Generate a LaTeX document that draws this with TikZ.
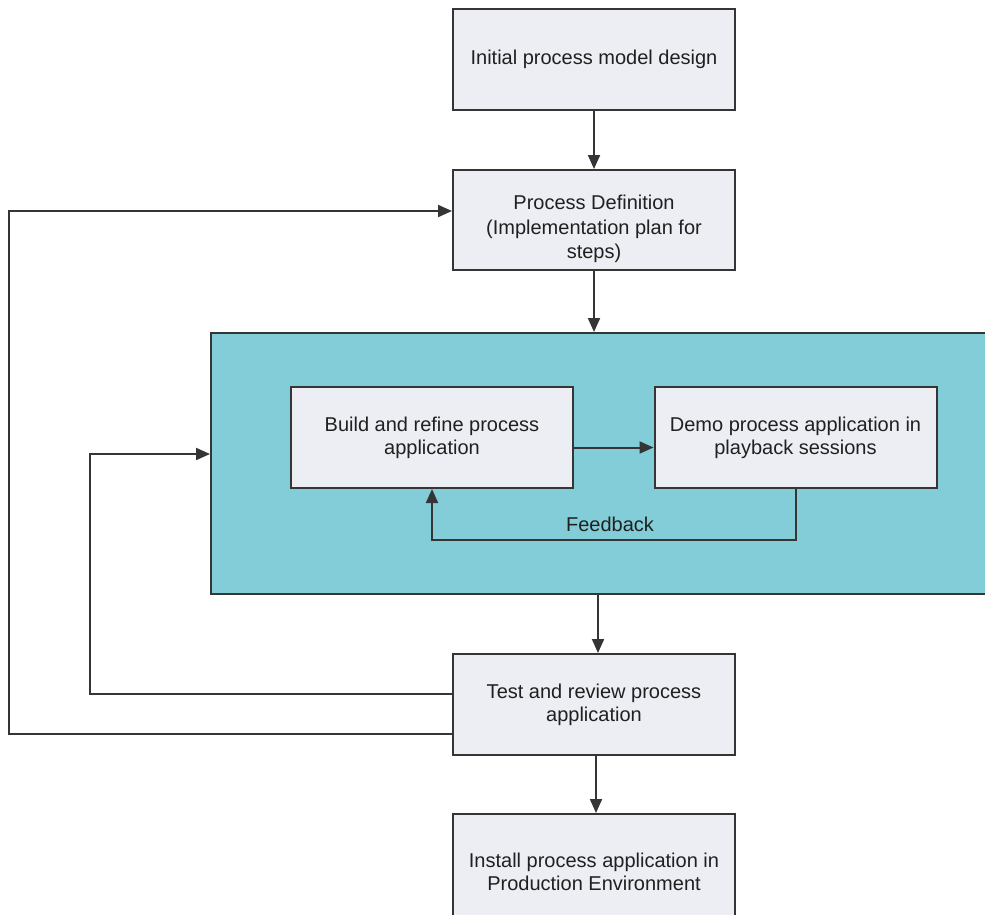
\documentclass[tikz,border=0pt]{standalone}
\usepackage{fontspec}
\setmainfont{Liberation Sans}
\usetikzlibrary{arrows.meta}
\definecolor{boxfill}{HTML}{ECEEF4}
\definecolor{tealbg}{HTML}{83CDD8}
\definecolor{edgec}{HTML}{353535}
\definecolor{txtc}{HTML}{202020}
\begin{document}
\begin{tikzpicture}[x=1pt,y=-1pt,
  box/.style={draw=edgec, line width=2pt, fill=boxfill, minimum width=282pt, minimum height=101pt, align=center, text=txtc, font=\fontsize{20}{23}\selectfont, inner sep=0pt},
  boxtext/.style={align=center, text=txtc, font=\fontsize{20}{24.5}\selectfont, inner sep=0pt},
  conn/.style={draw=edgec, line width=2pt, -{Triangle[length=14pt,width=12pt]}},
  plain/.style={draw=edgec, line width=2pt}]
\useasboundingbox (0,0) rectangle (985,914);
\clip (0,0) rectangle (985,914);
% container
\node[box, fill=tealbg, anchor=north west, minimum width=800pt, minimum height=261pt] (cont) at (210,332) {};
% boxes
\node[box] (init) at (594,59) {Initial process model design};
\node[box, minimum height=100pt] (pd) at (594,220) {};
\node[boxtext] (pdt) at (594,229) {Process Definition\\(Implementation plan for\\steps)};
\node[box] (build) at (432,437.5) {Build and refine process\\application};
\node[box] (demo) at (795.5,437.5) {Demo process application in\\playback sessions};
\node[box] (test) at (594,704.5) {Test and review process\\application};
\node[box, minimum height=116pt] (inst) at (594,872) {Install process application in\\Production Environment};
\node[boxtext] (fb) at (610,524) {Feedback};
% connectors
\draw[conn] (init) -- (pd);
\draw[conn] (pd) -- (pd |- cont.north);
\draw[conn] ([xshift=4pt]test.north |- cont.south) -- ([xshift=4pt]test.north);
\draw[conn] ([xshift=2pt]test.south) -- ([xshift=2pt]inst.north);
\draw[conn] ([yshift=-10pt]build.east) -- ([yshift=-10pt]demo.west);
\draw[conn] (demo.south) -- ++(0,50.5) -| (build.south);
\draw[conn] ([yshift=11pt]test.west) -- ++(-362,0) |- ([yshift=9.5pt]cont.west);
\draw[conn] ([yshift=-29.5pt]test.west) -- ++(-443,0) |- ([yshift=9pt]pd.west);
\end{tikzpicture}
\end{document}
